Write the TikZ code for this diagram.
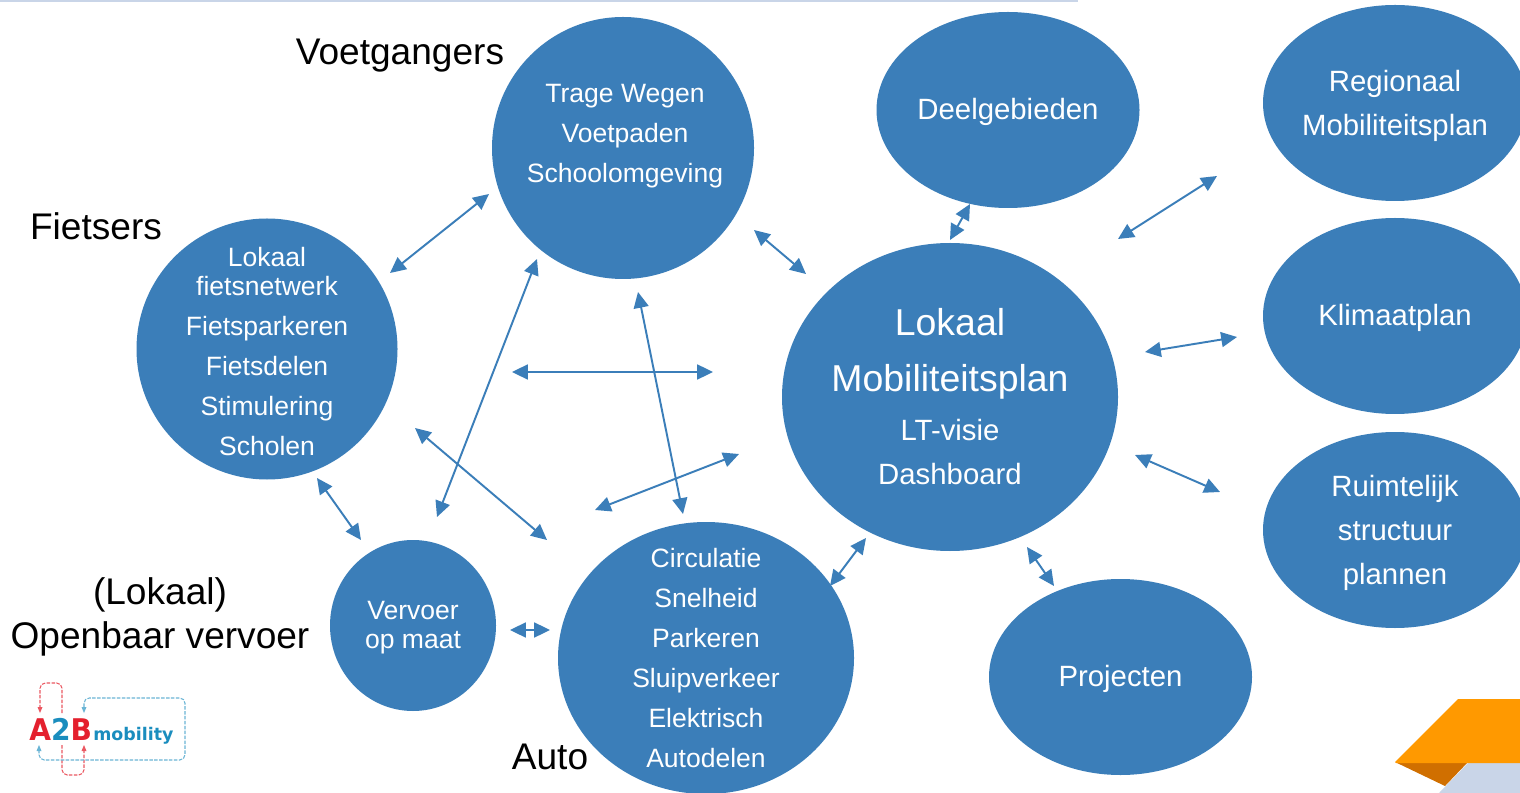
\documentclass[tikz,border=0pt]{standalone}
\usepackage{fontspec}
\setmainfont{Liberation Sans}
\newfontfamily\logofont{DejaVu Sans}
\usetikzlibrary{arrows.meta,shapes.geometric}
\definecolor{blobblue}{HTML}{3B7EB9}
\definecolor{toprule}{HTML}{C9D5E8}
\definecolor{tiporange}{HTML}{FF9900}
\definecolor{tipdark}{HTML}{D06F00}
\definecolor{logored}{HTML}{E4202E}
\definecolor{logoblue}{HTML}{1A8DBE}
\tikzset{
  blob/.style 2 args={ellipse, fill=blobblue, minimum width=#1*0.02cm, minimum height=#2*0.02cm, inner sep=0pt},
  small/.style={text=white, align=center, inner sep=0pt, font=\fontsize{15.1}{22.7}\selectfont},
  medium/.style={text=white, align=center, inner sep=0pt, font=\fontsize{16.7}{25}\selectfont},
  large/.style={text=white, align=center, inner sep=0pt, font=\fontsize{21.3}{31.7}\selectfont},
  outer/.style={text=black, align=center, inner sep=0pt, font=\fontsize{21.1}{25}\selectfont},
  link/.style={draw=blobblue, line width=1.1pt, {Triangle[length=9pt,width=8.5pt]}-{Triangle[length=9pt,width=8.5pt]}},
  redloop/.style={draw=logored!75, line width=.6pt, dash pattern=on 2pt off .8pt, rounded corners=3pt},
  blueloop/.style={draw=logoblue!65, line width=.6pt, dash pattern=on 2pt off .8pt, rounded corners=3pt}
}
\begin{document}
\begin{tikzpicture}[x=0.02cm,y=-0.02cm]
\clip (0,0) rectangle (1520,793);
\fill[white] (0,0) rectangle (1520,793);
\fill[toprule] (0,0) rectangle (1078,2);
% bubbles
\node[blob={262}{262}] (voet) at (623,148) {};
\node[blob={263}{196}] (deel) at (1008,110) {};
\node[blob={264}{196}] (regio) at (1395,103) {};
\node[blob={264}{196}] (klimaat) at (1395,316) {};
\node[blob={264}{196}] (ruimte) at (1395,530) {};
\node[blob={261}{261}] (fiets) at (267,349) {};
\node[blob={336}{308}] (lmp) at (950,397) {};
\node[blob={166}{171}] (vervoer) at (413,625.5) {};
\node[blob={296}{272}] (auto) at (706,658) {};
\node[blob={263}{196}] (proj) at (1120.5,677) {};
% texts in the bubbles
\node[small] (tvoet) at (625,136) {Trage Wegen\\Voetpaden\\Schoolomgeving};
\node[medium] (tdeel) at (1008,112) {Deelgebieden};
\node[medium] (tregio) at (1395,106) {Regionaal\\Mobiliteitsplan};
\node[medium] (tklimaat) at (1395,318) {Klimaatplan};
\node[medium] (truimte) at (1395,533) {Ruimtelijk\\structuur\\plannen};
\node[small] (tfiets) at (267,351.5) {Lokaal\\[-6.2pt]fietsnetwerk\\Fietsparkeren\\Fietsdelen\\Stimulering\\Scholen};
\node[large] (tlmp) at (950,354) {Lokaal\\Mobiliteitsplan};
\node[medium] (tlt) at (950,452) {LT-visie\\Dashboard};
\node[small] (tvervoer) at (413,628) {Vervoer\\[-6.2pt]op maat};
\node[small] (tauto) at (706,658) {Circulatie\\Snelheid\\Parkeren\\Sluipverkeer\\Elektrisch\\Autodelen};
\node[medium] (tproj) at (1120.5,679) {Projecten};
% names outside
\node[outer] (lvoet) at (400,56) {Voetgangers};
\node[outer] (lfiets) at (96,226) {Fietsers};
\node[outer] (lov) at (160,617) {(Lokaal)\\Openbaar vervoer};
\node[outer] (lauto) at (550,757) {Auto};
% free ends of the arrows
\coordinate (a1) at (390,273); \coordinate (b1) at (489,194);
\coordinate (a2) at (754,230); \coordinate (b2) at (806,274);
\coordinate (a3) at (950,240); \coordinate (b3) at (970,204);
\coordinate (a4) at (1118,239); \coordinate (b4) at (1217,176);
\coordinate (a5) at (1145,352); \coordinate (b5) at (1237,337);
\coordinate (a6) at (1135,455); \coordinate (b6) at (1220,492);
\coordinate (a7) at (1027,547); \coordinate (b7) at (1054,586);
\coordinate (a8) at (830,586); \coordinate (b8) at (866,538);
\coordinate (a9) at (595,510); \coordinate (b9) at (739,454);
\coordinate (a10) at (415,428); \coordinate (b10) at (547,540);
\coordinate (a11) at (512,372); \coordinate (b11) at (713,372);
\coordinate (a12) at (437,517); \coordinate (b12) at (537,259);
\coordinate (a13) at (638,292); \coordinate (b13) at (683,514);
\coordinate (a14) at (317,478); \coordinate (b14) at (361,540);
\coordinate (a15) at (510,630); \coordinate (b15) at (550,630);
\foreach \i in {1,...,15} \draw[link] (a\i) -- (b\i);
% corner
\fill[toprule] (1468,763) -- (1520,763) -- (1520,793) -- (1439,793) -- cycle;
\fill[tipdark] (1395,762) -- (1468,762) -- (1445,786) -- cycle;
\fill[tiporange] (1395,762) -- (1458,699) -- (1520,699) -- (1520,763) -- (1396,763) -- cycle;
% logo
\draw[redloop] (62,713) -- (62,683) -- (40,683) -- (40,708);
\fill[logored!75] (40,713) -- (37.5,707) -- (42.5,707) -- cycle;
\draw[redloop] (62,745) -- (62,775) -- (84,775) -- (84,750);
\fill[logored!75] (84,745) -- (81.5,751) -- (86.5,751) -- cycle;
\draw[blueloop] (84,707) -- (84,698) -- (185,698) -- (185,760) -- (39,760) -- (39,750);
\fill[logoblue!65] (84,713) -- (81.5,707) -- (86.5,707) -- cycle;
\fill[logoblue!65] (39,745) -- (36.5,751) -- (41.5,751) -- cycle;
\node[anchor=base west, inner sep=0pt, xscale=.94, font=\logofont\fontsize{17}{20}\bfseries\selectfont] (la2b) at (29,740) {\textcolor{logored}{A}\textcolor{logoblue}{2}\textcolor{logored}{B}};
\node[anchor=base west, inner sep=0pt, text=logoblue, font=\logofont\fontsize{9.9}{12}\bfseries\selectfont] (lmob) at (93,740) {mobility};
\end{tikzpicture}
\end{document}
